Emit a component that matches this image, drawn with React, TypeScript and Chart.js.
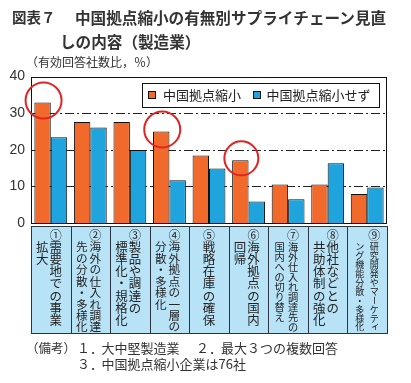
import React, { useEffect, useRef } from "react";
import { Chart, registerables } from "chart.js";

Chart.register(...registerables);

const categories = [
  "①需要地での事業拡大",
  "②海外の仕入れ調達先の分散・多様化",
  "③製品や調達の標準化・規格化",
  "④海外拠点の一層の分散・多様化",
  "⑤戦略在庫の確保",
  "⑥海外拠点の国内回帰",
  "⑦海外仕入れ調達先の国内への切り替え",
  "⑧他社などとの共助体制の強化",
  "⑨研究開発やマーケティング機能分散・多様化",
];
const categoryMarks = ["①", "②", "③", "④", "⑤", "⑥", "⑦", "⑧", "⑨"];
const categoryColumns = [
  ["需要地での事業", "拡大"],
  ["海外の仕入れ調達", "先の分散・多様化"],
  ["製品や調達の", "標準化・規格化"],
  ["海外拠点の一層の", "分散・多様化"],
  ["戦略在庫の確保"],
  ["海外拠点の国内", "回帰"],
  ["海外仕入れ調達先の", "国内への切り替え"],
  ["他社などとの", "共助体制の強化"],
  ["研究開発やマーケティ", "ング機能分散・多様化"],
];
const seriesNames = ["中国拠点縮小", "中国拠点縮小せず"];
const shrinkValues = [32.9, 27.6, 27.6, 25.0, 18.4, 17.1, 10.5, 10.5, 7.9];
const noShrinkValues = [23.4, 26.1, 19.9, 11.7, 14.9, 5.9, 6.5, 16.3, 9.7];
const yTickValues = [0, 10, 20, 30, 40];
const gridValues = [10, 20, 30];
const highlighted = [0, 3, 5];

const ORANGE = "#f26a2b";
const BLUE = "#1fa4dd";
const CELL = "#b8e3f6";
const JP = '"Noto Sans CJK JP", "Noto Sans", sans-serif';

const framePlugin = {
  id: "frame",
  beforeDatasetsDraw(chart: any) {
    const { ctx, chartArea } = chart;
    const y = chart.scales.y;
    ctx.save();
    ctx.strokeStyle = "#222";
    ctx.lineWidth = 1;
    ctx.setLineDash([9, 3, 2, 3]);
    gridValues.forEach((v) => {
      const py = Math.round(y.getPixelForValue(v)) + 0.5;
      ctx.beginPath();
      ctx.moveTo(chartArea.left, py);
      ctx.lineTo(chartArea.right, py);
      ctx.stroke();
    });
    ctx.restore();
  },
  afterDatasetsDraw(chart: any) {
    const { ctx, chartArea } = chart;
    const y = chart.scales.y;
    const x = chart.scales.x;
    ctx.save();
    ctx.strokeStyle = "#111";
    ctx.lineWidth = 1;
    const top = Math.round(y.getPixelForValue(40)) + 0.5;
    const bot = Math.round(y.getPixelForValue(0)) + 0.5;
    const l = Math.round(chartArea.left) + 0.5;
    const r = Math.round(chartArea.right) - 0.5;
    ctx.strokeRect(l, top, r - l, bot - top);

    // highlight circles
    const meta = chart.getDatasetMeta(0);
    ctx.strokeStyle = "#e02424";
    ctx.lineWidth = 2;
    highlighted.forEach((i, k) => {
      const el = meta.data[i];
      const rad = k === 2 ? 17 : 18;
      ctx.beginPath();
      ctx.arc(el.x + 1, el.y - 2, rad, 0, Math.PI * 2);
      ctx.stroke();
    });

    // legend
    const lx = 142.5, ly = 83.5, lw = 237, lh = 24;
    ctx.fillStyle = "#fff";
    ctx.fillRect(lx, ly, lw, lh);
    ctx.strokeStyle = "#111";
    ctx.lineWidth = 1;
    ctx.strokeRect(lx, ly, lw, lh);
    ctx.font = `13px ${JP}`;
    ctx.textBaseline = "middle";
    ctx.textAlign = "left";
    const items = [
      { sx: 148.5, tx: 163 },
      { sx: 253.5, tx: 266.5 },
    ];
    chart.data.datasets.forEach((ds: any, i: number) => {
      const it = items[i];
      ctx.fillStyle = ds.backgroundColor;
      ctx.fillRect(it.sx, 91.5, 7, 7);
      ctx.strokeStyle = "#111";
      ctx.strokeRect(it.sx, 91.5, 7, 7);
      ctx.fillStyle = "#222";
      ctx.fillText(ds.label, it.tx, 95.5);
    });

    // category table
    const tTop = 226.5, tBot = 333.5;
    const n = chart.data.labels.length;
    for (let i = 0; i < n; i++) {
      const cx = x.getPixelForValue(i);
      const half = (x.getPixelForValue(1) - x.getPixelForValue(0)) / 2;
      const c0 = Math.round(cx - half) + 0.5;
      const c1 = Math.round(cx + half) + 0.5;
      ctx.fillStyle = CELL;
      ctx.fillRect(c0, tTop, c1 - c0, tBot - tTop);
      ctx.strokeStyle = "#2b3440";
      ctx.lineWidth = 1;
      ctx.strokeRect(c0, tTop, c1 - c0, tBot - tTop);

      const cols = categoryColumns[i];
      const maxLen = Math.max(...cols.map((c) => c.length));
      const step = Math.min(12.2, 80 / Math.max(1, maxLen - 1));
      const fs = Math.min(12.5, step * 1.02);
      const start = 247;
      const colX =
        cols.length === 1
          ? [cx]
          : [cx + (i === 8 ? 7 : 5), cx - (i === 8 ? 7.5 : 8.5)];
      ctx.fillStyle = "#222";
      ctx.textAlign = "center";
      ctx.textBaseline = "middle";
      ctx.font = `12px ${JP}`;
      ctx.fillText(categoryMarks[i], colX[0], 235);
      ctx.font = `${fs}px ${JP}`;
      cols.forEach((col, ci) => {
        const chars = Array.from(col);
        chars.forEach((ch, k) => {
          const px = colX[ci];
          const py = start + k * step;
          if (ch === "ー") {
            ctx.save();
            ctx.translate(px, py);
            ctx.rotate(Math.PI / 2);
            ctx.fillText(ch, 0, 0);
            ctx.restore();
          } else if ("ィェャュョッ".includes(ch)) {
            ctx.fillText(ch, px + fs * 0.15, py - fs * 0.15);
          } else {
            ctx.fillText(ch, px, py);
          }
        });
      });
    }
    ctx.restore();
  },
};

export default function App() {
  const ref = useRef<HTMLCanvasElement | null>(null);
  useEffect(() => {
    document.body.style.margin = "0";
    const chart = new Chart(ref.current as HTMLCanvasElement, {
      type: "bar",
      data: {
        labels: categories,
        datasets: [
          {
            label: seriesNames[0],
            data: shrinkValues,
            backgroundColor: ORANGE,
            borderColor: "#111",
            borderWidth: 1,
            categoryPercentage: 0.83,
            barPercentage: 1,
          },
          {
            label: seriesNames[1],
            data: noShrinkValues,
            backgroundColor: BLUE,
            borderColor: "#111",
            borderWidth: 1,
            categoryPercentage: 0.83,
            barPercentage: 1,
          },
        ],
      },
      options: {
        responsive: false,
        animation: false,
        devicePixelRatio: 1,
        layout: { padding: { top: 76.5, left: 0, right: 24, bottom: 160 } },
        plugins: {
          legend: { display: false },
          tooltip: { enabled: false },
          title: { display: false },
        },
        scales: {
          x: {
            ticks: { display: false },
            grid: { display: false, drawTicks: false },
            border: { display: false },
            afterFit: (s: any) => {
              s.height = 0;
            },
          },
          y: {
            min: 0,
            max: 40,
            afterBuildTicks: (s: any) => {
              s.ticks = yTickValues.map((v) => ({ value: v }));
            },
            ticks: {
              color: "#333",
              padding: 6,
              font: { family: '"Liberation Sans", Arial, sans-serif', size: 14 },
            },
            grid: { display: false, drawTicks: false },
            border: { display: false },
            afterFit: (s: any) => {
              s.width = 31;
            },
          },
        },
      },
      plugins: [framePlugin],
    });
    return () => chart.destroy();
  }, []);

  const txt: React.CSSProperties = {
    position: "absolute",
    whiteSpace: "nowrap",
    fontFamily: JP,
    color: "#333",
    lineHeight: "16px",
  };
  return (
    <div style={{ position: "relative", width: 411, height: 383, background: "#fff", overflow: "hidden" }}>
      <canvas ref={ref} width={411} height={383} style={{ position: "absolute", left: 0, top: 0, width: 411, height: 383 }} />
      <div style={{ ...txt, left: 12, top: 8.5, fontSize: 14.5, fontWeight: 700 }}>図表７</div>
      <div style={{ ...txt, left: 75, top: 8.5, fontSize: 15.6, fontWeight: 700 }}>中国拠点縮小の有無別サプライチェーン見直</div>
      <div style={{ ...txt, left: 60, top: 33, fontSize: 15.6, fontWeight: 700 }}>しの内容（製造業）</div>
      <div style={{ ...txt, left: 26, top: 54, fontSize: 12 }}>（有効回答社数比，％）</div>
      <div style={{ ...txt, left: 26, top: 340, fontSize: 12.5 }}>（備考）</div>
      <div style={{ ...txt, left: 77, top: 340, fontSize: 13 }}>１．</div>
      <div style={{ ...txt, left: 101.5, top: 340, fontSize: 13 }}>大中堅製造業</div>
      <div style={{ ...txt, left: 196, top: 340, fontSize: 13 }}>２．</div>
      <div style={{ ...txt, left: 221, top: 340, fontSize: 13 }}>最大３つの複数回答</div>
      <div style={{ ...txt, left: 77, top: 356, fontSize: 13 }}>３．</div>
      <div style={{ ...txt, left: 101.5, top: 356, fontSize: 13 }}>中国拠点縮小企業は76社</div>
    </div>
  );
}
